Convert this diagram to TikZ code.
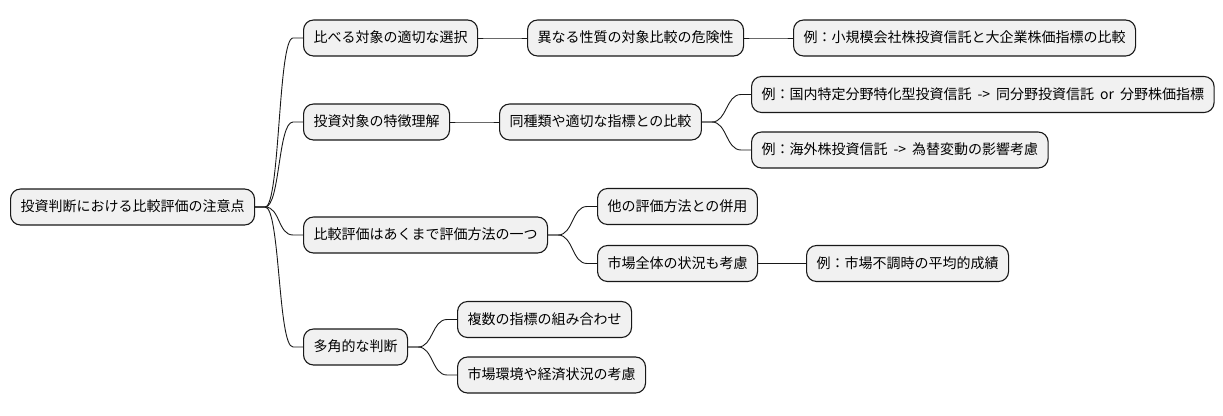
\documentclass[tikz,border=0pt]{standalone}
\usepackage{fontspec}
\setmainfont{Noto Sans CJK JP}
\definecolor{boxfill}{HTML}{F1F1F1}
\definecolor{boxline}{HTML}{181818}
\tikzset{
  mm/.style={draw=boxline, fill=boxfill, rounded corners=10pt, line width=1.1pt,
    minimum height=36pt, inner xsep=10pt, inner ysep=0pt, anchor=west,
    text height=11.5pt, text depth=2.5pt,
    font=\fontsize{14pt}{16pt}\selectfont},
  link/.style={draw=boxline, line width=0.9pt}
}
\newcommand\mmlink[2]{\draw[link] (#1.east) -- ++(10pt,0) .. controls +(15pt,0) and +(-15pt,0) .. ([xshift=-10pt]#2.west) -- (#2.west);}
\newcommand\wsp{\hspace{6pt}}
\begin{document}
\begin{tikzpicture}[x=1pt,y=-1pt]
\useasboundingbox (0,0) rectangle (1223,415);
\node[mm] (r) at (10,207) {投資判断における比較評価の注意点};
\node[mm] (a) at (303,38) {比べる対象の適切な選択};
\node[mm] (b) at (303,122) {投資対象の特徴理解};
\node[mm] (c) at (303,235) {比較評価はあくまで評価方法の一つ};
\node[mm] (d) at (303,347) {多角的な判断};
\node[mm] (a1) at (527,38) {異なる性質の対象比較の危険性};
\node[mm] (b1) at (499,122) {同種類や適切な指標との比較};
\node[mm] (c1) at (597,206.5) {他の評価方法との併用};
\node[mm] (c2) at (597,263.5) {市場全体の状況も考慮};
\node[mm] (d1) at (457,319.5) {複数の指標の組み合わせ};
\node[mm] (d2) at (457,375) {市場環境や経済状況の考慮};
\node[mm] (a1a) at (793,38) {例：小規模会社株投資信託と大企業株価指標の比較};
\node[mm] (b1a) at (751,94.5) {例：国内特定分野特化型投資信託\wsp{}->\wsp{}同分野投資信託\wsp{}or\wsp{}分野株価指標};
\node[mm] (b1b) at (751,150) {例：海外株投資信託\wsp{}->\wsp{}為替変動の影響考慮};
\node[mm] (c2a) at (806,263.5) {例：市場不調時の平均的成績};
\mmlink{r}{a}
\mmlink{r}{b}
\mmlink{r}{c}
\mmlink{r}{d}
\mmlink{a}{a1}
\mmlink{b}{b1}
\mmlink{c}{c1}
\mmlink{c}{c2}
\mmlink{d}{d1}
\mmlink{d}{d2}
\mmlink{a1}{a1a}
\mmlink{b1}{b1a}
\mmlink{b1}{b1b}
\mmlink{c2}{c2a}
\end{tikzpicture}
\end{document}
